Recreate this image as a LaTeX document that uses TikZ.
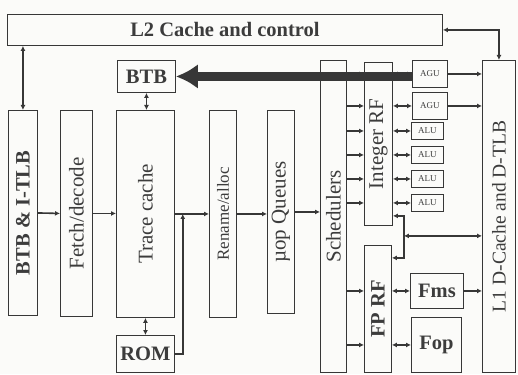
\documentclass[tikz,border=0pt]{standalone}
\usepackage{fontspec}
\setmainfont{Liberation Serif}
\usetikzlibrary{arrows.meta,calc}
\definecolor{linec}{RGB}{55,55,55}
\definecolor{textc}{RGB}{60,60,60}
\definecolor{paper}{RGB}{251,251,249}

\begin{document}
\begin{tikzpicture}[x=1pt, y=-1pt,
  box/.style={draw=linec, line width=0.9pt, inner sep=0pt, anchor=north west, text=textc,
    font=\fontsize{21}{21}\selectfont},
  boldlab/.style={font=\bfseries\fontsize{20.5}{20.5}\selectfont},
  unitlab/.style={font=\fontsize{9}{9}\selectfont},
  arr/.style={draw=linec, line width=1.6pt, -{Latex[length=5pt,width=5pt]}},
  darr/.style={draw=linec, line width=1.6pt, {Latex[length=5pt,width=5pt]}-{Latex[length=5pt,width=5pt]}}]

  \useasboundingbox[fill=paper] (0,0) rectangle (518,374);

  % L2 and front end
  \node[box, boldlab, minimum width=435, minimum height=31] (l2) at (7,14) {L2 Cache and control};
  \node[box, boldlab, minimum width=29, minimum height=205] (itlb) at (8,110) {\rotatebox{90}{BTB \& I-TLB}};
  \node[box, minimum width=32, minimum height=206] (fetch) at (60,110) {\rotatebox{90}{Fetch/decode}};
  \node[box, minimum width=58, minimum height=207] (trace) at (116,110) {\rotatebox{90}{Trace cache}};
  \node[box, boldlab, minimum width=58, minimum height=32] (btb) at (117,60) {BTB};
  \node[box, boldlab, minimum width=58, minimum height=37] (rom) at (116,335) {ROM};
  \node[box, font=\fontsize{17}{17}\selectfont, minimum width=27, minimum height=207] (rename) at (209,110) {\rotatebox{90}{Rename/alloc}};
  \node[box, minimum width=27, minimum height=203] (uopq) at (267,110) {\rotatebox{90}{µop Queues}};

  % Back end
  \node[box, minimum width=26, minimum height=312] (sched) at (320,60) {\rotatebox{90}{Schedulers}};
  \node[box, minimum width=28, minimum height=163] (intrf) at (364,62) {\rotatebox{90}{Integer RF}};
  \node[box, boldlab, minimum width=27, minimum height=127] (fprf) at (364,245) {\rotatebox{90}{FP RF}};
  \node[box, unitlab, minimum width=35, minimum height=27] (agu1) at (412,60) {AGU};
  \node[box, unitlab, minimum width=35, minimum height=27] (agu2) at (412,92) {AGU};
  \foreach \i/\y in {1/122,2/146,3/170,4/194}
    \node[box, unitlab, minimum width=32, minimum height=17] (alu\i) at (411,\y) {ALU};
  \node[box, boldlab, minimum width=53, minimum height=35] (fms) at (410,273) {Fms};
  \node[box, boldlab, minimum width=50, minimum height=55] (fop) at (411,317) {Fop};
  \node[box, font=\fontsize{19.5}{19.5}\selectfont, minimum width=33, minimum height=312] (l1) at (482,60) {\rotatebox{90}{L1 D-Cache and D-TLB}};

  % Front end flow
  \draw[darr] (l2.south -| itlb) -- (itlb.north);
  \draw[arr] (itlb.east) -- (fetch.west);
  \draw[arr] (fetch.east) -- (fetch.east -| trace.west);
  \draw[darr] (btb.south) -- (btb.south |- trace.north);
  \draw[darr] (rom.north) -- (trace.south);
  \draw[arr] (trace.east) -- (rename.west);
  \coordinate (merge) at ($(trace.east)!0.23!(rename.west)$);
  \draw[arr] (rom.east) -| (merge);
  \draw[arr] (rename.east) -- (rename.east -| uopq.west);
  \draw[arr] (uopq.east) -- (uopq.east -| sched.west);

  % Issue to the integer units
  \foreach \u in {agu1,agu2,alu1,alu2,alu3,alu4} {
    \draw[arr] (sched.east |- \u) -- (intrf.west |- \u);
    \draw[darr] (intrf.east |- \u) -- (\u.west);
  }
  \draw[arr] (agu1.east) -- (agu1.east -| l1.west);
  \draw[arr] (agu2.east) -- (agu2.east -| l1.west);
  \draw[darr] (l2.east) -| (l1.north);

  % Load/store bus
  \coordinate (busmid) at ($(intrf.south east)+(11,10)$);
  \coordinate (bustop) at ($(busmid)+(0,-20)$);
  \coordinate (busbot) at ($(busmid)+(0,22)$);
  \draw[arr] (busmid) -- (bustop) -- (bustop -| intrf.east);
  \draw[arr] (busmid) -- (busbot) -- (busbot -| fprf.east);
  \draw[darr] (busmid) -- (busmid -| l1.west);

  % Floating point
  \foreach \u in {fms,fop} {
    \draw[arr] (sched.east |- \u) -- (fprf.west |- \u);
    \draw[darr] (fprf.east |- \u) -- (\u.west);
  }
  \draw[arr] (fms.east) -- (fms.east -| l1.west);

  % Branch feedback
  \draw[draw=linec, line width=9.5pt, -{Latex[length=22pt,width=25pt]}] (btb.east -| agu1.west) -- (btb.east);

\end{tikzpicture}
\end{document}
